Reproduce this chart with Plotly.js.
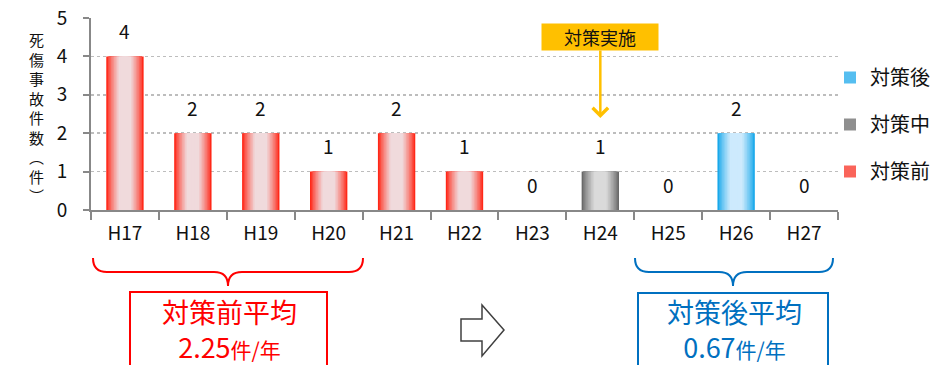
<!DOCTYPE html>
<html><head><meta charset="utf-8">
<script src="https://cdn.plot.ly/plotly-3.0.1.min.js"></script>
<style>html,body{margin:0;padding:0;background:#fff;}#chart{width:945px;height:365px;}</style>
</head><body><div id="chart"></div>
<script>
// ---- data ----
const categories = ['H17','H18','H19','H20','H21','H22','H23','H24','H25','H26','H27'];
const values     = [4, 2, 2, 1, 2, 1, 0, 1, 0, 2, 0];
const phases     = ['前','前','前','前','前','前','前','中','後','後','後'];
const seriesNames = {'後':'対策後','中':'対策中','前':'対策前'};
const seriesOrder = ['後','中','前'];
const beforeAvgLabel = '対策前平均';
const beforeAvgValue = '2.25';
const afterAvgLabel  = '対策後平均';
const afterAvgValue  = '0.67';
const unitLabel = '件/年';
const yTitleChars = ['死','傷','事','故','件','数','︵','件','︶'];
const eventLabel = '対策実施';
const eventCategory = 'H24';

// ---- styling ----
const FONT = '"Noto Sans CJK JP", "Noto Sans", sans-serif';
const gradients = {
  '前': {edge:[255,40,24], center:[240,218,220]},
  '中': {edge:[105,105,105], center:[218,218,218]},
  '後': {edge:[24,168,234], center:[205,234,253]}
};
const W = 945, H = 365;
const L = 91, R = 838, T = 18, B = 210;
const px = x => (x - L) / (R - L);
const py = y => (B - y) / (B - T);

const NL = 12, W0 = 0.55;
function mix(a,b,t){return 'rgb('+a.map((v,i)=>Math.round(v+(b[i]-v)*t)).join(',')+')';}

const traces = [];
seriesOrder.forEach((ph, si) => {
  const ys = values.map((v,i)=> phases[i]===ph ? v : null);
  const g = gradients[ph];
  for (let k=0;k<NL;k++){
    const t = Math.min(1, Math.pow(k/(NL*0.65), 0.8));
    traces.push({
      type:'bar', x:categories, y:ys,
      width: W0*(1 - k/NL),
      marker:{color: mix(g.edge,g.center,t), line:{width:0}},
      name: seriesNames[ph],
      legendgroup: ph,
      showlegend: k===2,
      legendrank: si+1,
      hoverinfo:'skip'
    });
  }
});

const C = {xanchor:'center', yanchor:'middle', showarrow:false, xref:'paper', yref:'paper'};
const annotations = [];
values.forEach((v,i)=>{
  annotations.push({x:categories[i], y:v, xref:'x', yref:'y', text:String(v),
    showarrow:false, yshift:26, font:{family:FONT, size:19, color:'#111'}});
});
annotations.push(Object.assign({x:px(36), y:py(118), text:yTitleChars.join('<br>'),
  font:{family:FONT, size:15, color:'#111'}}, C));
annotations.push({x:eventCategory, y:(B-118)/((B-T)/5), xref:'x', yref:'y', text:eventLabel,
  showarrow:true, ax:0, ay:-81, arrowcolor:'#ffc000', arrowwidth:2.5, arrowhead:4, arrowsize:1.2,
  bgcolor:'#ffc000', width:112, height:22, borderpad:2, font:{family:FONT, size:18, color:'#111'}});
// average boxes text
annotations.push(Object.assign({x:px(229), y:py(329), align:'center',
  text:beforeAvgLabel+'<br>'+beforeAvgValue+'<span style="font-size:21px">'+unitLabel+'</span>',
  font:{family:FONT, size:27, color:'#ff0000'}}, C));
annotations.push(Object.assign({x:px(734), y:py(329), align:'center',
  text:afterAvgLabel+'<br>'+afterAvgValue+'<span style="font-size:21px">'+unitLabel+'</span>',
  font:{family:FONT, size:27, color:'#0070c0'}}, C));

function brace(x0,x1,xc,top,mid,bot,r){
  const P=(x,y)=>px(x)+','+py(y);
  return 'M'+P(x0,top)+' Q'+P(x0,mid)+' '+P(x0+r,mid)+' L'+P(xc-r,mid)+' Q'+P(xc,mid)+' '+P(xc,bot)+
    ' Q'+P(xc,mid)+' '+P(xc+r,mid)+' L'+P(x1-r,mid)+' Q'+P(x1,mid)+' '+P(x1,top);
}
function arrowPath(){
  const pts=[[461,319],[482,319],[482,305],[504,330],[482,356],[482,341],[461,341]];
  return 'M'+pts.map(p=>px(p[0])+','+py(p[1])).join(' L')+' Z';
}
const shapes = [
  {type:'path', xref:'paper', yref:'paper', path:brace(93,363,228,258,272,286,14), line:{color:'#ff0000', width:2}},
  {type:'path', xref:'paper', yref:'paper', path:brace(635,833,733,258,272,286,14), line:{color:'#0070c0', width:2}},
  {type:'rect', xref:'paper', yref:'paper', x0:px(130), x1:px(327), y0:py(292), y1:py(380), line:{color:'#ff0000', width:2}},
  {type:'rect', xref:'paper', yref:'paper', x0:px(638), x1:px(828), y0:py(293), y1:py(380), line:{color:'#0070c0', width:2}},
  {type:'path', xref:'paper', yref:'paper', path:arrowPath(), line:{color:'#404040', width:1.5}, fillcolor:'#ffffff'}
];

const layout = {
  width:W, height:H,
  margin:{l:L, r:W-R, t:T, b:H-B, autoexpand:false},
  paper_bgcolor:'#fff', plot_bgcolor:'#fff',
  barmode:'overlay',
  font:{family:FONT, size:19, color:'#111'},
  xaxis:{type:'category', categoryarray:categories, tickson:'boundaries', ticks:'outside', ticklen:8,
    tickcolor:'#888', tickwidth:2, showline:true, linecolor:'#888', linewidth:2, showgrid:false,
    tickfont:{family:FONT, size:19, color:'#111'}, ticklabelstandoff:5, fixedrange:true},
  yaxis:{range:[0,5], dtick:1, ticks:'outside', ticklen:6, tickcolor:'#888', tickwidth:2,
    showline:true, linecolor:'#888', linewidth:2, showgrid:true, gridcolor:'#bdbdbd', griddash:'dot',
    gridwidth:1.5, zeroline:false, tickfont:{family:FONT, size:19, color:'#111'}, ticklabelstandoff:12, fixedrange:true},
  showlegend:true,
  legend:{x:px(830), y:py(58), xanchor:'left', yanchor:'top', font:{family:FONT, size:20, color:'#111'},
    tracegroupgap:18, itemwidth:30, bgcolor:'rgba(0,0,0,0)'},
  annotations, shapes
};
Plotly.newPlot('chart', traces, layout, {staticPlot:true, displayModeBar:false});
</script></body></html>
